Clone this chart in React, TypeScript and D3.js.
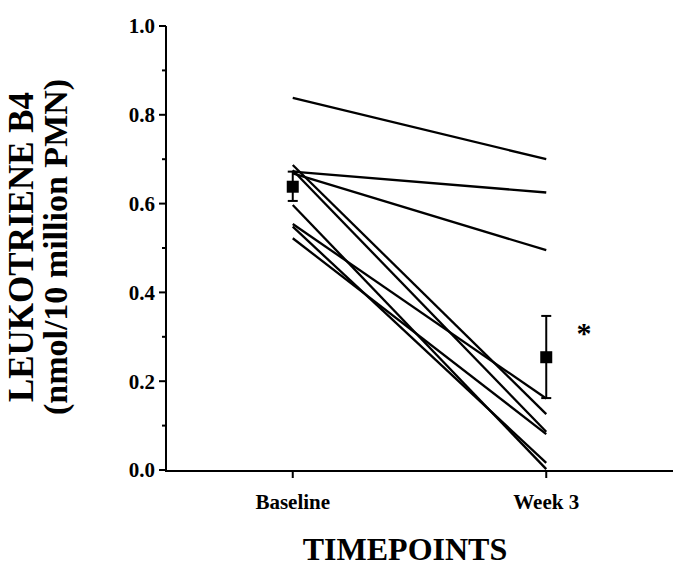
import React from 'react'
import * as d3 from 'd3'

// LTB4 per subject, baseline vs week 3
const timepoints = ['Baseline', 'Week 3']
const baseline = [0.838, 0.687, 0.672, 0.668, 0.675, 0.597, 0.554, 0.548, 0.522]
const week3 = [0.70, 0.126, 0.625, 0.495, 0.086, 0.002, 0.161, 0.016, 0.081]
const means = [0.638, 0.254]
const errLow = [0.606, 0.162]
const errHigh = [0.672, 0.347]
const yMajorTicks = [0, 0.2, 0.4, 0.6, 0.8, 1.0]
const yMinorTicks = [0.1, 0.3, 0.5, 0.7, 0.9]

const W = 673
const H = 568
const FONT = '"Liberation Serif", "Times New Roman", serif'

export default function App() {
  const axisX = 166
  const axisY = 471

  const x = d3.scalePoint<string>().domain(timepoints).range([axisX, W]).padding(0.5)
  const y = d3.scaleLinear().domain([0, 1]).range([470, 26])

  const line = d3.line<[string, number]>()
    .x(d => x(d[0]) as number)
    .y(d => y(d[1]))

  const subjects = baseline.map((b, i) => [[timepoints[0], b], [timepoints[1], week3[i]]] as [string, number][])

  return (
    <div style={{ position: 'absolute', top: 0, left: 0 }}>
      <svg width={W} height={H} style={{ display: 'block', background: '#fff' }} fontFamily={FONT} fontWeight="bold">
        {/* subject lines */}
        {subjects.map((s, i) => (
          <path key={i} d={line(s) || ''} fill="none" stroke="#000" strokeWidth={2.3} />
        ))}

        {/* means with error bars */}
        {timepoints.map((t, i) => {
          const cx = x(t) as number
          return (
            <g key={t}>
              <line x1={cx} x2={cx} y1={y(errLow[i])} y2={y(errHigh[i])} stroke="#000" strokeWidth={2} />
              <line x1={cx - 5} x2={cx + 5} y1={y(errLow[i])} y2={y(errLow[i])} stroke="#000" strokeWidth={2} />
              <line x1={cx - 5} x2={cx + 5} y1={y(errHigh[i])} y2={y(errHigh[i])} stroke="#000" strokeWidth={2} />
              <rect x={cx - 6} y={y(means[i]) - 6} width={12} height={12} fill="#000" />
            </g>
          )
        })}
        <text x={584} y={343} fontSize={30} textAnchor="middle">*</text>

        {/* y axis */}
        <line x1={axisX} x2={axisX} y1={y(1)} y2={axisY} stroke="#000" strokeWidth={2} />
        {yMajorTicks.map(v => (
          <g key={v}>
            <line x1={axisX - 7} x2={axisX} y1={y(v)} y2={y(v)} stroke="#000" strokeWidth={2} />
            <text x={axisX - 11} y={y(v)} dy="0.35em" fontSize={21} textAnchor="end">{v.toFixed(1)}</text>
          </g>
        ))}
        {yMinorTicks.map(v => (
          <line key={v} x1={axisX - 4} x2={axisX} y1={y(v)} y2={y(v)} stroke="#000" strokeWidth={2} />
        ))}

        {/* x axis */}
        <line x1={axisX - 1} x2={W} y1={axisY} y2={axisY} stroke="#000" strokeWidth={2} />
        {timepoints.map(t => (
          <g key={t}>
            <line x1={x(t) as number} x2={x(t) as number} y1={axisY} y2={axisY + 7} stroke="#000" strokeWidth={2} />
            <text x={x(t) as number} y={509} fontSize={21} textAnchor="middle">{t}</text>
          </g>
        ))}
        <text x={405} y={560} fontSize={32} textAnchor="middle">TIMEPOINTS</text>

        {/* y title */}
        <g transform="translate(33,247) rotate(-90)">
          <text x={0} y={0} fontSize={35} textAnchor="middle">LEUKOTRIENE B4</text>
          <text x={0} y={34} fontSize={34} textAnchor="middle">(nmol/10 million PMN)</text>
        </g>
      </svg>
    </div>
  )
}
